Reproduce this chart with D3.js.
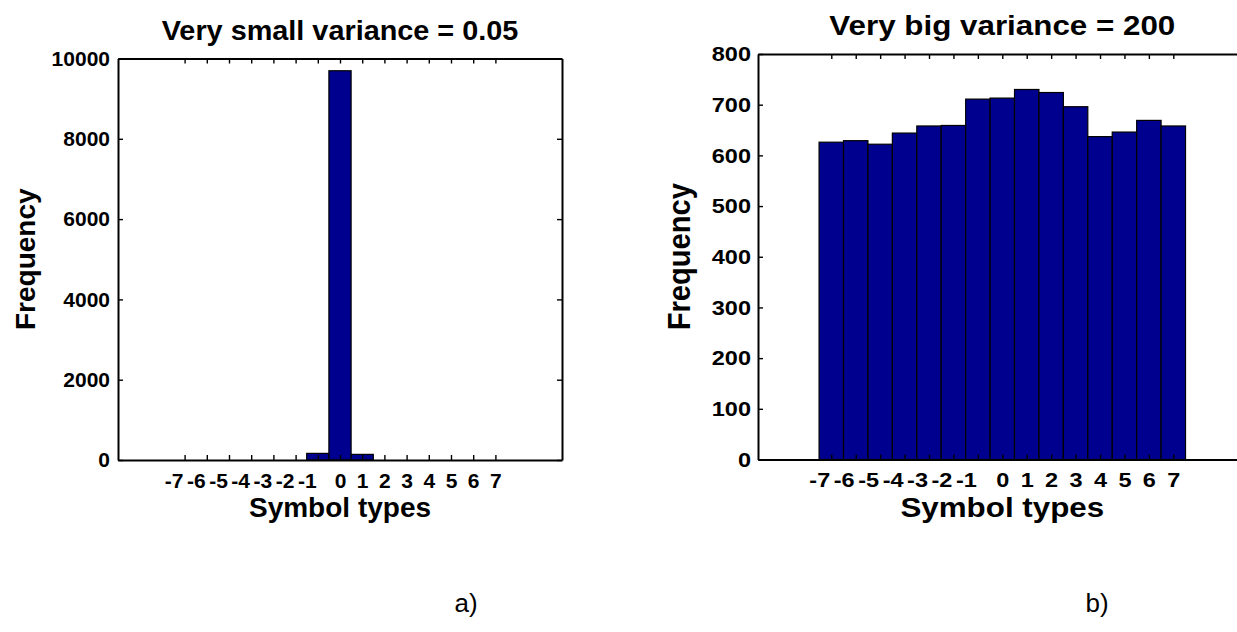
<!DOCTYPE html>
<html>
<head>
<meta charset="utf-8">
<script src="https://cdn.jsdelivr.net/npm/d3@7"></script>
<style>
  html, body { margin: 0; padding: 0; background: #fff; }
  svg { display: block; }
  text { font-family: "Liberation Sans", Arial, Helvetica, sans-serif; fill: #000; }
</style>
</head>
<body>
<svg id="chart" width="1237" height="632"></svg>
<script>
// ---- data ----
const categories = [-7, -6, -5, -4, -3, -2, -1, 0, 1, 2, 3, 4, 5, 6, 7];
const smallVarianceValues = [0, 0, 0, 0, 0, 0, 165, 9695, 140, 0, 0, 0, 0, 0, 0];
const bigVarianceValues = [626, 629, 622, 644, 658, 659, 711, 713, 730, 724, 696, 637, 646, 669, 658];
const smallYTicks = [0, 2000, 4000, 6000, 8000, 10000];
const bigYTicks = [0, 100, 200, 300, 400, 500, 600, 700, 800];
const xTickLabels = categories.map(String);
const titles = ["Very small variance = 0.05", "Very big variance = 200"];
const xLabel = "Symbol types";
const yLabel = "Frequency";
const panelLabels = ["a)", "b)"];

const svg = d3.select("#chart");
const barFill = "#00008f";

function drawPanel(cfg) {
  const g = svg.append("g");
  const sx = cfg.sx;
  const x = d3.scaleLinear().domain([-10, 10]).range([cfg.left, cfg.right]);
  const y = d3.scaleLinear().domain([0, cfg.yMax]).range([cfg.bottom, cfg.top]);

  // bars
  const data = categories.map((c, i) => ({ c, v: cfg.values[i] })).filter(d => d.v > 0);
  g.selectAll("rect.bar").data(data).enter().append("rect")
    .attr("class", "bar")
    .attr("x", d => x(d.c - 0.5))
    .attr("width", d => x(d.c + 0.5) - x(d.c - 0.5))
    .attr("y", d => y(d.v))
    .attr("height", d => y(0) - y(d.v))
    .attr("fill", barFill)
    .attr("stroke", "#000")
    .attr("stroke-width", 1.2);

  const styleAxis = sel => {
    sel.select(".domain").attr("stroke", "#000").attr("stroke-width", 2);
    sel.selectAll(".tick line").attr("stroke", "#000").attr("stroke-width", 1.4);
  };

  // bottom axis
  const bottom = g.append("g").attr("transform", `translate(0,${cfg.bottom})`)
    .call(d3.axisBottom(x).tickValues(categories).tickFormat((d, i) => xTickLabels[i])
      .tickSizeInner(-5).tickSizeOuter(0).tickPadding(13));
  styleAxis(bottom);
  bottom.selectAll(".tick text")
    .attr("font-size", cfg.tickFont).attr("font-weight", "bold")
    .attr("font-family", "Liberation Sans, Arial, sans-serif")
    .attr("transform", `scale(${sx},1)`)
    .attr("dx", d => d < 0 ? cfg.negShift / sx : 0);

  // top axis
  const top = g.append("g").attr("transform", `translate(0,${cfg.top})`)
    .call(d3.axisTop(x).tickValues(categories).tickFormat("")
      .tickSizeInner(-5).tickSizeOuter(0));
  styleAxis(top);

  // left axis
  const left = g.append("g").attr("transform", `translate(${cfg.left},0)`)
    .call(d3.axisLeft(y).tickValues(cfg.yTicks).tickFormat(d3.format("d"))
      .tickSizeInner(-5).tickSizeOuter(0).tickPadding(cfg.yPad));
  styleAxis(left);
  left.selectAll(".tick text")
    .attr("font-size", cfg.tickFont).attr("font-weight", "bold")
    .attr("font-family", "Liberation Sans, Arial, sans-serif")
    .attr("transform", `scale(${sx},1)`)
    .attr("x", -cfg.yPad / sx);

  // right axis
  const right = g.append("g").attr("transform", `translate(${cfg.right},0)`)
    .call(d3.axisRight(y).tickValues(cfg.yTicks).tickFormat("")
      .tickSizeInner(-5).tickSizeOuter(0));
  styleAxis(right);

  // title
  g.append("text")
    .attr("transform", `translate(${x(0)},${cfg.titleY}) scale(${sx * cfg.titleSx},1)`)
    .attr("text-anchor", "middle")
    .attr("font-size", 28).attr("font-weight", "bold")
    .text(cfg.title);

  // x label
  g.append("text")
    .attr("transform", `translate(${x(0)},517) scale(${sx},1)`)
    .attr("text-anchor", "middle")
    .attr("font-size", 28).attr("font-weight", "bold")
    .text(xLabel);

  // y label
  const cy = (cfg.top + cfg.bottom) / 2;
  g.append("text")
    .attr("transform", `translate(${cfg.yLabelX},${cy}) rotate(-90) scale(${cfg.yLabelSy},${sx})`)
    .attr("text-anchor", "middle")
    .attr("font-size", 28).attr("font-weight", "bold")
    .text(yLabel);

  // panel label
  g.append("text")
    .attr("x", cfg.panelX).attr("y", 612)
    .attr("text-anchor", "middle")
    .attr("font-size", 26)
    .attr("font-family", "Open Sans, Liberation Sans, sans-serif")
    .text(cfg.panelLabel);
}

drawPanel({
  left: 118, right: 562, top: 58.5, bottom: 460, yMax: 10000,
  values: smallVarianceValues, yTicks: smallYTicks, title: titles[0], titleY: 40,
  yLabelX: 35, panelX: 466, panelLabel: panelLabels[0],
  sx: 1.0, titleSx: 1.03, tickFont: 21, yPad: 8, negShift: -11, yLabelSy: 1.0
});

drawPanel({
  left: 758, right: 1246.6, top: 54, bottom: 459.5, yMax: 800,
  values: bigVarianceValues, yTicks: bigYTicks, title: titles[1], titleY: 35,
  yLabelX: 690, panelX: 1097, panelLabel: panelLabels[1],
  sx: 1.12, titleSx: 1.0, tickFont: 21, yPad: 7, negShift: -12, yLabelSy: 1.04
});
</script>
</body>
</html>
